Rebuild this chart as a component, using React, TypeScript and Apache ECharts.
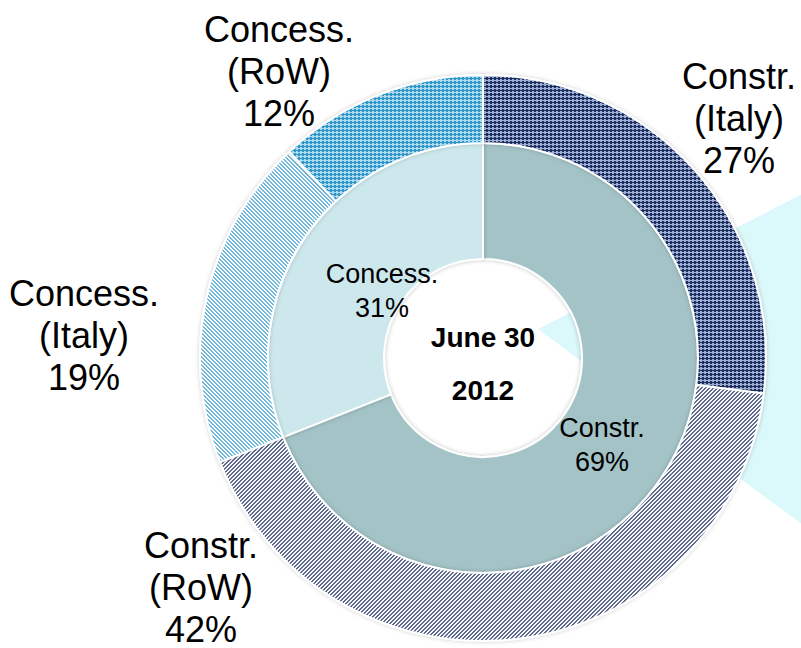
import React, { useEffect, useRef } from "react";
import * as echarts from "echarts";

const outerNames = ["Constr.\n(Italy)", "Constr.\n(RoW)", "Concess.\n(Italy)", "Concess.\n(RoW)"];
const outerValues = [27, 42, 19, 12];
const innerNames = ["Constr.", "Concess."];
const innerValues = [69, 31];
const centerLines = ["June 30", "2012"];

// label anchor positions (px) – layout only
const outerLabelPos = [
  [739, 118],
  [201, 587],
  [84, 335],
  [279, 71],
];
const innerLabelPos = [
  [602, 445],
  [382, 291],
];

const FONT = "'Liberation Sans', Arial, Helvetica, sans-serif";

// pattern styles: kind, foreground, background
const outerPatterns = [
  { kind: "diamond", fg: "#9eafd3", bg: "#1c2f5e" },
  { kind: "up", fg: "#616a8b", bg: "#f6f7fb" },
  { kind: "down", fg: "#72b8da", bg: "#fbfdff" },
  { kind: "diamond", fg: "#aedaf0", bg: "#2f95c8" },
];
const innerColors = ["#a3c3c7", "#cce8ed"];

function makeTile(kind: string, fg: string, bg: string) {
  const n = 4;
  const c = document.createElement("canvas");
  c.width = n;
  c.height = n;
  const ctx = c.getContext("2d")!;
  ctx.fillStyle = bg;
  ctx.fillRect(0, 0, n, n);
  ctx.fillStyle = fg;
  for (let x = 0; x < n; x++) {
    for (let y = 0; y < n; y++) {
      let on = false;
      if (kind === "up") on = (x + y) % n < 2;
      else if (kind === "down") on = (x - y + n * 2) % n < 2;
      else {
        const u = x + y + 1;
        const v = x - y + 9;
        on = (Math.floor(u / 4) + Math.floor(v / 4)) % 2 === 0;
      }
      if (on) ctx.fillRect(x, y, 1, 1);
    }
  }
  return { image: c, repeat: "repeat" };
}

export default function App() {
  const ref = useRef<HTMLDivElement>(null);
  useEffect(() => {
    if (!ref.current) return;
    const chart = echarts.init(ref.current, null, { renderer: "svg" });
    chart.setOption({
      animation: false,
      backgroundColor: "#ffffff",
      graphic: [
        {
          type: "polygon",
          z: 0,
          silent: true,
          shape: { points: [[538, 329], [830, 180], [830, 545]] },
          style: { fill: "#dbf8fa" },
        },
        ...centerLines.map((t, i) => ({
          type: "text",
          z: 100,
          x: 483,
          y: i === 0 ? 337 : 390,
          silent: true,
          style: {
            text: t,
            fill: "#000",
            fontFamily: FONT,
            fontWeight: "bold",
            fontSize: 28,
            align: "center",
            verticalAlign: "middle",
          },
        })),
      ],
      series: [
        {
          type: "pie",
          silent: true,
          z: 5,
          center: [483, 358],
          radius: [99, 215],
          startAngle: 90,
          clockwise: true,
          avoidLabelOverlap: false,
          itemStyle: { borderColor: "#ffffff", borderWidth: 2, shadowBlur: 4, shadowColor: "rgba(0,0,0,0.25)" },
          label: {
            show: true,
            position: "inside",
            formatter: "{b}\n{c}%",
            fontFamily: FONT,
            fontSize: 27,
            lineHeight: 34,
            color: "#000",
          },
          labelLine: { show: false },
          labelLayout: (p: any) => ({
            x: innerLabelPos[p.dataIndex][0],
            y: innerLabelPos[p.dataIndex][1],
            align: "center",
            verticalAlign: "middle",
          }),
          data: innerNames.map((n, i) => ({ name: n, value: innerValues[i], itemStyle: { color: innerColors[i] } })),
        },
        {
          type: "pie",
          silent: true,
          z: 5,
          center: [483, 358],
          radius: [215, 283],
          startAngle: 90,
          clockwise: true,
          avoidLabelOverlap: false,
          itemStyle: { borderColor: "#ffffff", borderWidth: 2, shadowBlur: 4, shadowColor: "rgba(0,0,0,0.2)" },
          label: {
            show: true,
            position: "inside",
            formatter: "{b}\n{c}%",
            fontFamily: FONT,
            fontSize: 36,
            lineHeight: 42,
            color: "#000",
          },
          labelLine: { show: false },
          labelLayout: (p: any) => ({
            x: outerLabelPos[p.dataIndex][0],
            y: outerLabelPos[p.dataIndex][1],
            align: "center",
            verticalAlign: "middle",
          }),
          data: outerNames.map((n, i) => ({
            name: n,
            value: outerValues[i],
            itemStyle: { color: makeTile(outerPatterns[i].kind, outerPatterns[i].fg, outerPatterns[i].bg) },
          })),
        },
      ],
    });
    return () => chart.dispose();
  }, []);
  return <div ref={ref} style={{ position: "absolute", left: 0, top: 0, width: 801, height: 648 }} />;
}
